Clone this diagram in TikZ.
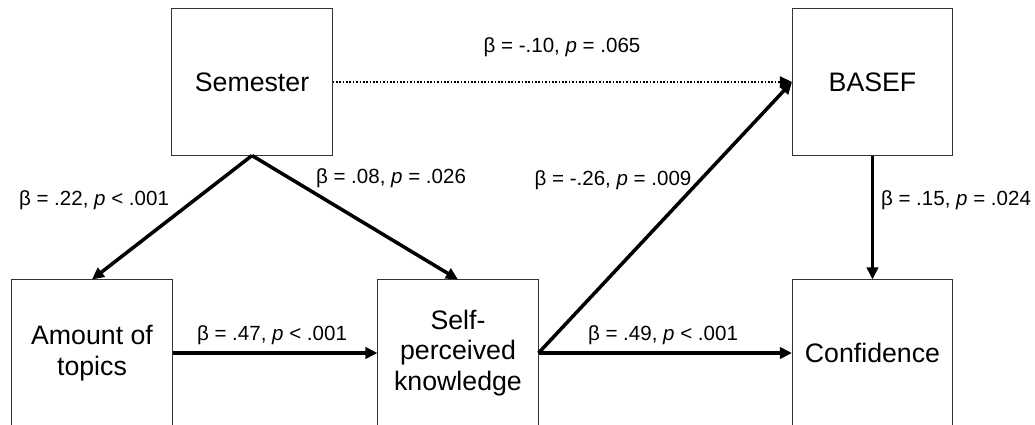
\documentclass[tikz,border=0pt]{standalone}
\usepackage{fontspec}
\setmainfont{Liberation Sans}
\usepackage{xcolor}
\usetikzlibrary{arrows.meta}

\tikzset{
  varbox/.style={draw=black!80, line width=0.7pt, minimum width=4cm, minimum height=3.65cm,
    inner sep=0pt, align=center, font=\fontsize{19}{21.5}\selectfont},
  coef/.style={inner sep=0pt, font=\fontsize{14.6}{17}\selectfont},
  path/.style={line width=2.5pt, -{Triangle[length=0.3cm, width=0.28cm]}},
  weakpath/.style={line width=1pt, dash pattern=on 1.2pt off 1.2pt,
    -{Triangle[length=0.3cm, width=0.28cm]}}
}

\begin{document}
\begin{tikzpicture}[x=0.025cm, y=-0.025cm]

\clip (0,0) rectangle (1035,424);
\fill[white] (0,0) rectangle (1035,424);

\node[varbox] (sem) at (252,82) {Semester};
\node[varbox] (basef) at (872.5,82) {BASEF};
\node[varbox] (amt) at (92,353) {Amount of\\topics};
\node[varbox] (know) at (458,353) {Self-\\perceived\\knowledge};
\node[varbox] (conf) at (872.5,353) {Confidence};

\draw[weakpath] (sem.east) -- (basef.west);
\draw[path] (sem.south) -- (amt.north);
\draw[path] (sem.south) -- (know.north);
\draw[path] (amt.east) -- (know.west);
\draw[path] (know.east) -- (basef.west);
\draw[path] (know.east) -- (conf.west);
\draw[path] (basef.south) -- (conf.north);

% coefficients
\node[coef] (c1) at (562,47) {β = -.10, \textit{p} = .065};
\node[coef] (c2) at (94,200) {β = .22, \textit{p} < .001};
\node[coef] (c3) at (391,178) {β = .08, \textit{p} = .026};
\node[coef] (c4) at (613,180) {β = -.26, \textit{p} = .009};
\node[coef] (c5) at (956,200) {β = .15, \textit{p} = .024};
\node[coef] (c6) at (272,335) {β = .47, \textit{p} < .001};
\node[coef] (c7) at (663,335) {β = .49, \textit{p} < .001};

\end{tikzpicture}
\end{document}
